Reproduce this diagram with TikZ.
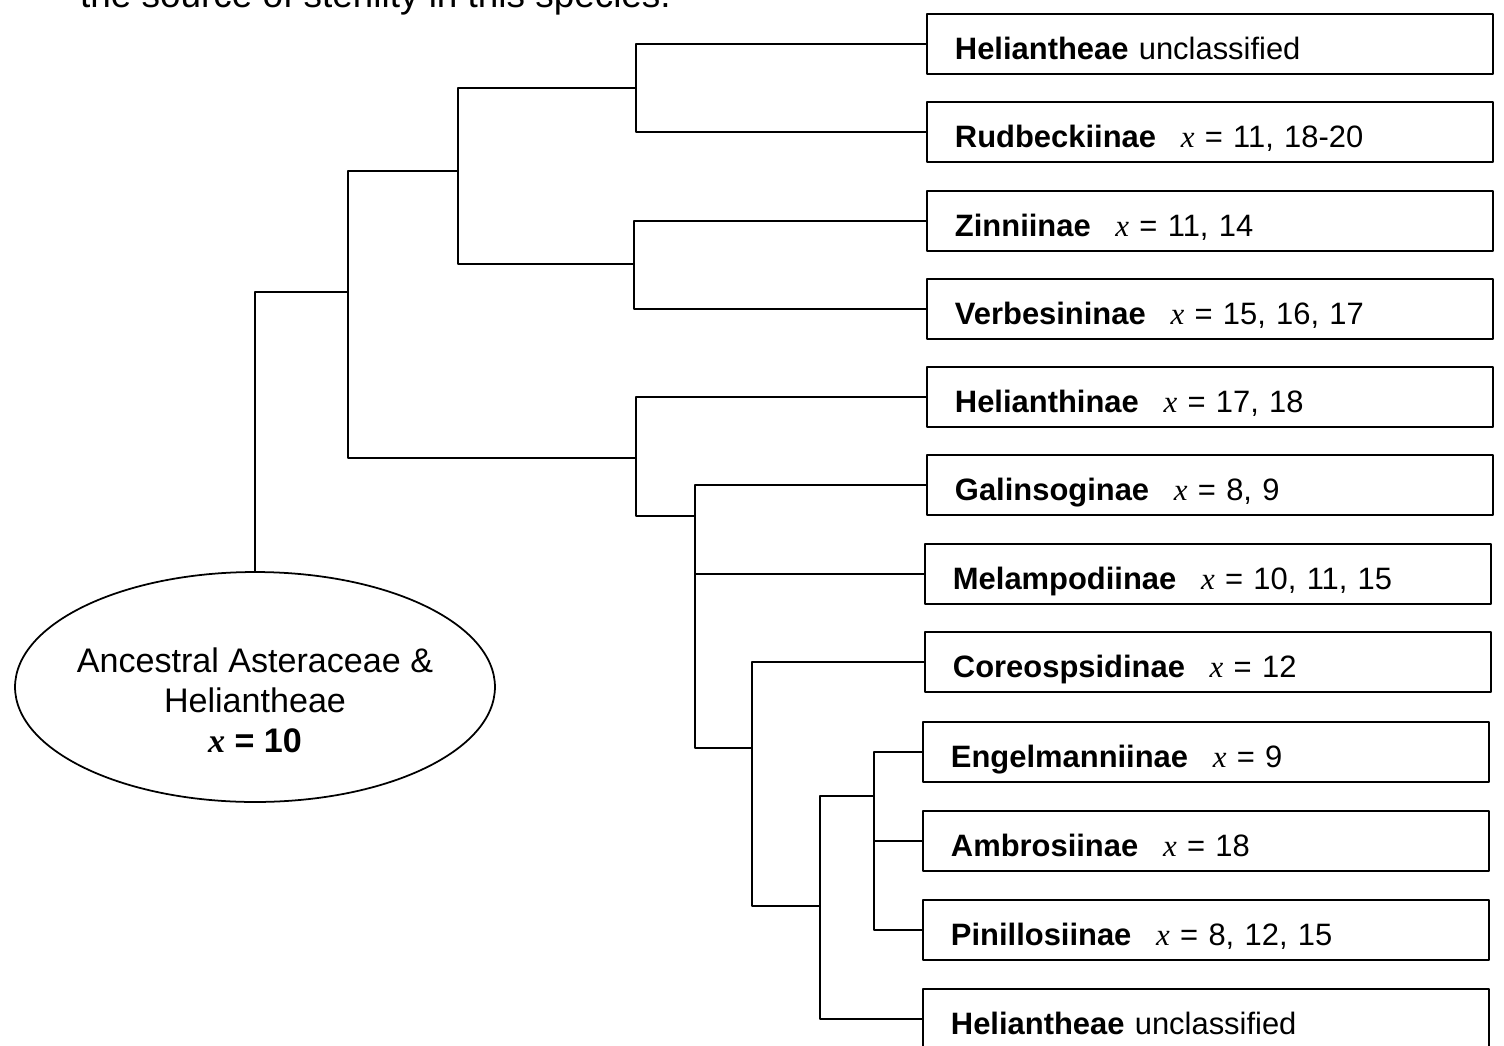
\documentclass[tikz,border=0pt]{standalone}
\usepackage{fontspec}
\setmainfont{Liberation Sans}
\newfontfamily\xfont{Liberation Serif}
\usetikzlibrary{shapes.geometric}

\newcommand{\xval}{{\xfont\itshape x}}
\newcommand{\xbold}{{\xfont\bfseries\itshape x}}

\begin{document}
\begin{tikzpicture}[x=0.02cm, y=-0.02cm, line cap=round, line join=round]

% --- Styles ---
\tikzset{
    taxon/.style={
        draw,
        line width=1.1pt,
        rectangle,
        anchor=west,
        minimum width=11.32cm,
        minimum height=1.2cm,
        text width=10.2cm,
        text height=21.5pt,
        text depth=3.5pt,
        inner xsep=0.5cm,
        align=left,
        font=\fontsize{17.6}{21}\selectfont
    },
    ancestor/.style={
        draw,
        line width=1pt,
        ellipse,
        inner sep=0pt,
        minimum width=9.6cm,
        minimum height=4.6cm
    },
    ancestortext/.style={
        align=center,
        font=\fontsize{19.4}{22.7}\selectfont
    },
    branch/.style={
        draw=black,
        line width=0.9pt
    }
}

\useasboundingbox (0,0) rectangle (1504,1045);

% --- Cut-off caption line at the top ---
\node[anchor=base west, font=\fontsize{21}{25}\selectfont] (caption) at (74,7)
    {the source of sterility in this species.};

% --- Ancestral node ---
\node[ancestor] (root) at (255,687) {};
\node[ancestortext] (rootlabel) at (255,700)
    {Ancestral Asteraceae \&\\ Heliantheae\\ \textbf{\xbold{} = 10}};

% --- Subtribes ---
\foreach \name/\xpos/\ypos/\txt in {
    t1/926/44/{\textbf{Heliantheae} unclassified},
    t2/926/132/{\textbf{Rudbeckiinae}\hspace{0.8em}\xval{} = 11, 18-20},
    t3/926/221/{\textbf{Zinniinae}\hspace{0.8em}\xval{} = 11, 14},
    t4/926/309/{\textbf{Verbesininae}\hspace{0.8em}\xval{} = 15, 16, 17},
    t5/926/397/{\textbf{Helianthinae}\hspace{0.8em}\xval{} = 17, 18},
    t6/926/485/{\textbf{Galinsoginae}\hspace{0.8em}\xval{} = 8, 9},
    t7/924/574/{\textbf{Melampodiinae}\hspace{0.8em}\xval{} = 10, 11, 15},
    t8/924/662/{\textbf{Coreospsidinae}\hspace{0.8em}\xval{} = 12},
    t9/922/752/{\textbf{Engelmanniinae}\hspace{0.8em}\xval{} = 9},
    t10/922/841/{\textbf{Ambrosiinae}\hspace{0.8em}\xval{} = 18},
    t11/922/930/{\textbf{Pinillosiinae}\hspace{0.8em}\xval{} = 8, 12, 15},
    t12/922/1019/{\textbf{Heliantheae} unclassified}}
    \node[taxon] (\name) at (\xpos,\ypos) {\txt};

% --- Junctions of the tree ---
\coordinate (jA) at (348,292);
\coordinate (jB) at (458,171);
\coordinate (jC) at (636,88);
\coordinate (jD) at (634,264);
\coordinate (jE) at (636,458);
\coordinate (jF) at (695,516);
\coordinate (jG) at (752,748);
\coordinate (jH) at (820,906);
\coordinate (jI) at (874,796);

% --- Branches ---
\draw[branch] (root.north) |- (jA);
\draw[branch] (jA) |- (jB);
\draw[branch] (jA) |- (jE);

\draw[branch] (jB) |- (jC);
\draw[branch] (jB) |- (jD);
\draw[branch] (jC) |- (t1.west);
\draw[branch] (jC) |- (t2.west);
\draw[branch] (jD) |- (t3.west);
\draw[branch] (jD) |- (t4.west);

\draw[branch] (jE) |- (t5.west);
\draw[branch] (jE) |- (jF);
\draw[branch] (jF) |- (t6.west);
\draw[branch] (jF) |- (t7.west);
\draw[branch] (jF) |- (jG);
\draw[branch] (jG) |- (t8.west);
\draw[branch] (jG) |- (jH);
\draw[branch] (jH) |- (jI);
\draw[branch] (jH) |- (t12.west);
\draw[branch] (jI) |- (t9.west);
\draw[branch] (jI) |- (t10.west);
\draw[branch] (jI) |- (t11.west);

\end{tikzpicture}
\end{document}
